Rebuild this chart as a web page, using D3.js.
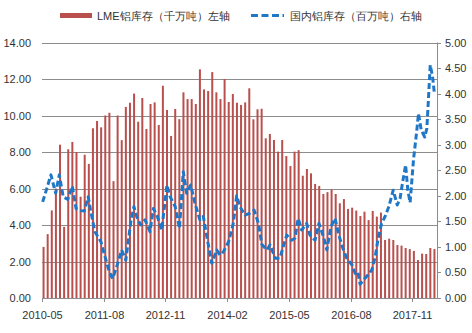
<!DOCTYPE html>
<html><head><meta charset="utf-8">
<script src="https://cdn.jsdelivr.net/npm/d3@7"></script>
<style>body{margin:0;background:#fff}svg{display:block;font-family:"Liberation Sans",Arial,sans-serif}</style>
</head><body><svg id="c" width="472" height="333"></svg>
<script>
// ---- data ----
const startMonth = "2010-05", endMonth = "2018-04";
const lmeStock = [2.8,3.5,4.8,6.0,8.4,3.9,8.15,8.55,8.0,5.55,7.85,7.35,9.3,9.7,9.35,10.0,10.15,6.4,10.0,8.65,
10.47,10.7,11.2,9.66,10.96,9.26,10.63,10.72,9.48,11.63,10.3,8.88,10.36,9.8,11.27,10.9,10.9,10.63,12.53,11.43,
11.34,12.38,11.27,10.9,12.0,10.74,11.18,10.7,10.58,10.72,11.49,9.79,10.34,10.37,8.75,8.99,8.66,8.02,8.66,7.78,
7.23,8.02,8.1,6.7,7.07,6.83,6.25,6.14,5.7,5.8,5.95,5.7,5.19,5.42,4.88,4.95,4.79,4.49,4.73,4.27,
4.77,4.46,4.68,3.18,3.25,3.18,2.9,2.87,2.74,2.68,2.58,2.08,2.43,2.41,2.74,2.68];
const domesticDates = ["2010-05-06","2010-07-06","2010-08-10","2010-09-06","2010-10-05","2010-11-08","2010-12-11","2011-01-08","2011-02-12","2011-03-10",
"2011-04-08","2011-04-25","2011-05-27","2011-07-11","2011-08-10","2011-09-11","2011-10-06","2011-11-09","2011-12-11","2012-01-11",
"2012-01-30","2012-02-19","2012-03-11","2012-04-01","2012-04-30","2012-06-01","2012-07-08","2012-08-02","2012-09-01","2012-10-03",
"2012-11-10","2012-12-04","2013-01-10","2013-02-11","2013-03-11","2013-04-05","2013-05-05","2013-06-06","2013-07-12","2013-08-06",
"2013-09-06","2013-10-08","2013-11-14","2013-12-08","2014-01-03","2014-02-09","2014-03-16","2014-04-10","2014-05-04","2014-06-11",
"2014-07-18","2014-08-17","2014-09-18","2014-10-13","2014-11-19","2014-12-13","2015-01-20","2015-02-24","2015-03-20","2015-04-15",
"2015-05-21","2015-06-15","2015-07-09","2015-08-04","2015-09-10","2015-10-04","2015-11-11","2015-12-10","2016-01-12","2016-02-06",
"2016-03-08","2016-04-07","2016-05-01","2016-05-31","2016-07-02","2016-08-09","2016-09-03","2016-09-23","2016-10-09","2016-11-03",
"2016-12-05","2017-01-04","2017-01-29","2017-02-22","2017-03-17","2017-04-11","2017-05-10","2017-06-11","2017-07-11","2017-08-01",
"2017-08-18","2017-09-11","2017-09-27","2017-10-14","2017-11-08","2017-12-03","2017-12-15","2018-01-04","2018-01-30","2018-02-15",
"2018-02-27","2018-03-12","2018-03-29","2018-04-12"];
const domesticStock = [1.88,2.41,2.05,2.41,1.98,1.93,2.19,1.75,1.71,1.70,
1.98,1.72,1.30,1.10,0.81,0.51,0.38,0.65,0.94,0.74,
1.13,1.53,1.79,1.59,1.43,1.53,1.30,1.75,1.59,1.33,
2.21,1.98,1.79,1.36,2.47,2.05,2.21,1.85,1.53,1.60,
1.13,0.68,0.94,0.84,0.91,1.10,1.46,2.00,1.79,1.62,
1.66,1.72,1.46,1.05,0.94,1.04,0.78,0.78,1.00,1.23,
1.13,1.17,1.56,1.33,1.46,1.23,1.13,1.46,1.20,0.94,
1.40,1.56,1.27,1.00,0.78,0.65,0.48,0.51,0.27,0.35,
0.45,0.55,0.81,1.20,1.46,1.59,1.79,2.11,1.82,1.95,
2.24,2.60,2.11,1.87,2.70,3.29,3.61,3.29,3.15,3.32,
3.91,4.56,4.33,4.00];
const xTickLabels = ["2010-05","2011-08","2012-11","2014-02","2015-05","2016-08","2017-11"];
const leftTicks = [0,2,4,6,8,10,12,14];
const rightTicks = [0,0.5,1,1.5,2,2.5,3,3.5,4,4.5,5];
const legendNames = ["LME铝库存（千万吨）左轴","国内铝库存（百万吨）右轴"];

// ---- layout ----
const L = 42, R = 437, T = 42.5, B = 298;
const barColor = "#B9504E", lineColor = "#1F77C8", gridColor = "#8C8C8C", textColor = "#333";
const svg = d3.select("#c");
const parseM = d3.timeParse("%Y-%m"), fmtM = d3.timeFormat("%Y-%m"), parseD = d3.timeParse("%Y-%m-%d");
const months = d3.timeMonth.range(parseM(startMonth), d3.timeMonth.offset(parseM(endMonth),1)).map(fmtM);

const x = d3.scaleBand().domain(months).range([L, R]);
const xt = d3.scaleTime().domain([parseM(startMonth), d3.timeMonth.offset(parseM(endMonth),1)]).range([L, R]);
const yL = d3.scaleLinear().domain([0,14]).range([B, T]);
const yR = d3.scaleLinear().domain([0,5]).range([B, T]);

// gridlines
svg.append("g").selectAll("line").data(leftTicks.filter(d=>d>0)).join("line")
  .attr("x1", L).attr("x2", R).attr("y1", d=>Math.round(yL(d))+0.5).attr("y2", d=>Math.round(yL(d))+0.5)
  .attr("stroke", gridColor).attr("stroke-width",1);

// bars
const bw = 2;
svg.append("g").selectAll("rect").data(months.map((m,i)=>({m, v:lmeStock[i]}))).join("rect")
  .attr("x", d => x(d.m) + x.bandwidth()/2 - bw/2 - 0.5)
  .attr("width", bw)
  .attr("y", d => yL(d.v))
  .attr("height", d => B - yL(d.v))
  .attr("fill", barColor);

// bottom axis
const ax = svg.append("g");
ax.append("line").attr("x1", L).attr("x2", R).attr("y1", B+0.5).attr("y2", B+0.5).attr("stroke", gridColor);
const tickG = ax.selectAll("g").data(xTickLabels).join("g")
  .attr("transform", d => `translate(${Math.round(x(d))+0.5},0)`);
tickG.append("line").attr("y1", B).attr("y2", B+4).attr("stroke", gridColor);
tickG.append("text").attr("y", 319).attr("text-anchor","middle").attr("font-size", 11).attr("fill", textColor).text(d=>d);

// left axis labels
svg.append("g").selectAll("text").data(leftTicks).join("text")
  .attr("x", 31).attr("y", d => yL(d)+4).attr("text-anchor","end")
  .attr("font-size", 11).attr("fill", textColor).text(d => d3.format(".2f")(d));

// right axis
const ra = svg.append("g");
ra.append("line").attr("x1", R+0.5).attr("x2", R+0.5).attr("y1", T).attr("y2", B).attr("stroke", gridColor);
ra.selectAll("line.t").data(rightTicks).join("line").attr("class","t")
  .attr("x1", R).attr("x2", R+4).attr("y1", d=>Math.round(yR(d))+0.5).attr("y2", d=>Math.round(yR(d))+0.5).attr("stroke", gridColor);
ra.selectAll("text").data(rightTicks).join("text")
  .attr("x", 445).attr("y", d => yR(d)+4).attr("font-size", 11).attr("fill", textColor)
  .text(d => d3.format(".2f")(d));

// line
const pts = domesticDates.map((d,i)=>({t: parseD(d), v: domesticStock[i]}));
svg.append("path").datum(pts)
  .attr("d", d3.line().x(d=>xt(d.t)).y(d=>yR(d.v)))
  .attr("fill","none").attr("stroke", lineColor).attr("stroke-width", 3)
  .attr("stroke-dasharray","6,3").attr("stroke-linejoin","round");

// legend
const lg = svg.append("g");
lg.append("rect").attr("x", 60).attr("y", 13).attr("width", 32).attr("height", 5).attr("fill", barColor);
lg.append("text").attr("x", 97).attr("y", 19.5).attr("font-size", 11).attr("fill", textColor).text(legendNames[0]);
lg.append("line").attr("x1", 251).attr("x2", 284).attr("y1", 15.5).attr("y2", 15.5)
  .attr("stroke", lineColor).attr("stroke-width", 3).attr("stroke-dasharray","7,3.5");
lg.append("text").attr("x", 290).attr("y", 19.5).attr("font-size", 11).attr("fill", textColor).text(legendNames[1]);
</script></body></html>
